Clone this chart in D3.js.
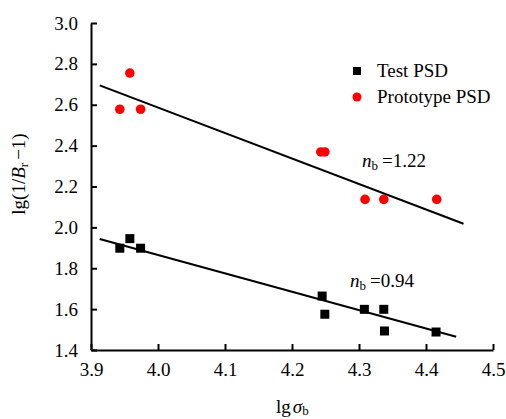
<!DOCTYPE html>
<html>
<head>
<meta charset="utf-8">
<script src="https://cdn.jsdelivr.net/npm/d3@7"></script>
<style>
  body { margin: 0; background: #fff; }
  svg text { font-family: "Liberation Serif", "Times New Roman", "DejaVu Serif", serif !important; fill: #000; }
</style>
</head>
<body>
<div id="chart"></div>
<script>
// data
var testX = [3.943, 3.958, 3.974, 4.245, 4.249, 4.308, 4.337, 4.338, 4.415];
var testY = [1.898, 1.945, 1.898, 1.664, 1.575, 1.599, 1.599, 1.493, 1.488];
var protoX = [3.943, 3.958, 3.974, 4.243, 4.249, 4.309, 4.337, 4.416];
var protoY = [2.578, 2.755, 2.578, 2.369, 2.369, 2.137, 2.137, 2.137];
var testFitX = [3.913, 4.445];
var testFitY = [1.943, 1.465];
var protoFitX = [3.913, 4.456];
var protoFitY = [2.695, 2.018];
var xTicks = [3.9, 4.0, 4.1, 4.2, 4.3, 4.4, 4.5];
var yTicks = [1.4, 1.6, 1.8, 2.0, 2.2, 2.4, 2.6, 2.8, 3.0];

var W = 506, H = 419;
var m = {top: 23, right: 13, bottom: 69, left: 91};
var FS = 19;

var svg = d3.select("#chart").append("svg").attr("width", W).attr("height", H)
  .attr("font-family", "Liberation Serif, serif");
var x = d3.scaleLinear().domain([3.9, 4.5]).range([m.left, W - m.right]);
var y = d3.scaleLinear().domain([1.4, 3.0]).range([H - m.bottom, m.top]);

var xAxis = svg.append("g").attr("transform", "translate(0," + (H - m.bottom) + ")")
  .call(d3.axisBottom(x).tickValues(xTicks).tickFormat(d3.format(".1f")).tickSizeInner(-6).tickSizeOuter(0).tickPadding(13));
var yAxis = svg.append("g").attr("transform", "translate(" + m.left + ",0)")
  .call(d3.axisLeft(y).tickValues(yTicks).tickFormat(d3.format(".1f")).tickSizeInner(-6).tickSizeOuter(0).tickPadding(13));
[xAxis, yAxis].forEach(function(a) {
  a.attr("font-family", null).attr("font-size", null);
  a.select(".domain").attr("stroke", "#000").attr("stroke-width", 2);
  a.selectAll(".tick line").attr("stroke", "#000").attr("stroke-width", 2);
  a.selectAll(".tick text").attr("font-size", FS);
});

// fitted lines
var line = d3.line().x(function(d) { return x(d[0]); }).y(function(d) { return y(d[1]); });
svg.append("path").datum(d3.zip(protoFitX, protoFitY)).attr("d", line)
  .attr("fill", "none").attr("stroke", "#000").attr("stroke-width", 2);
svg.append("path").datum(d3.zip(testFitX, testFitY)).attr("d", line)
  .attr("fill", "none").attr("stroke", "#000").attr("stroke-width", 2);

// points
var sq = 9;
svg.append("g").selectAll("rect").data(d3.zip(testX, testY)).enter().append("rect")
  .attr("x", function(d) { return x(d[0]) - sq / 2; })
  .attr("y", function(d) { return y(d[1]) - sq / 2; })
  .attr("width", sq).attr("height", sq).attr("fill", "#000");
svg.append("g").selectAll("circle").data(d3.zip(protoX, protoY)).enter().append("circle")
  .attr("cx", function(d) { return x(d[0]); })
  .attr("cy", function(d) { return y(d[1]); })
  .attr("r", 4.8).attr("fill", "#ff0000");

// legend
var lg = svg.append("g").attr("transform", "translate(357,71)");
lg.append("rect").attr("x", -4).attr("y", -4).attr("width", 8).attr("height", 8).attr("fill", "#000");
lg.append("text").attr("x", 20).attr("y", 6).attr("font-size", FS).text("Test PSD");
lg.append("circle").attr("cx", 0).attr("cy", 26).attr("r", 4.5).attr("fill", "#ff0000");
lg.append("text").attr("x", 20).attr("y", 32).attr("font-size", FS).text("Prototype PSD");

// annotations
function nb(px, py, val) {
  var t = svg.append("text").attr("x", px).attr("y", py).attr("font-size", FS);
  t.append("tspan").attr("font-style", "italic").text("n");
  t.append("tspan").attr("font-size", 13).attr("dy", 3).text("b");
  t.append("tspan").attr("dy", -3).attr("dx", 4).text("=" + val);
}
nb(362, 167, "1.22");
nb(350, 287, "0.94");

// axis titles
var xt = svg.append("text").attr("x", 276).attr("y", 413).attr("font-size", FS);
xt.append("tspan").text("lg");
xt.append("tspan").attr("font-style", "italic").attr("dx", 2).text("σ");
xt.append("tspan").attr("font-size", 13).attr("dy", 2).text("b");

var yt = svg.append("text").attr("transform", "translate(25,174) rotate(-90)")
  .attr("text-anchor", "middle").attr("font-size", FS);
yt.append("tspan").text("lg(1/");
yt.append("tspan").attr("font-style", "italic").text("B");
yt.append("tspan").attr("font-size", 13).attr("dy", 3).text("r");
yt.append("tspan").attr("dy", -3).attr("dx", 3).text("\u22121)");
</script>
</body>
</html>
